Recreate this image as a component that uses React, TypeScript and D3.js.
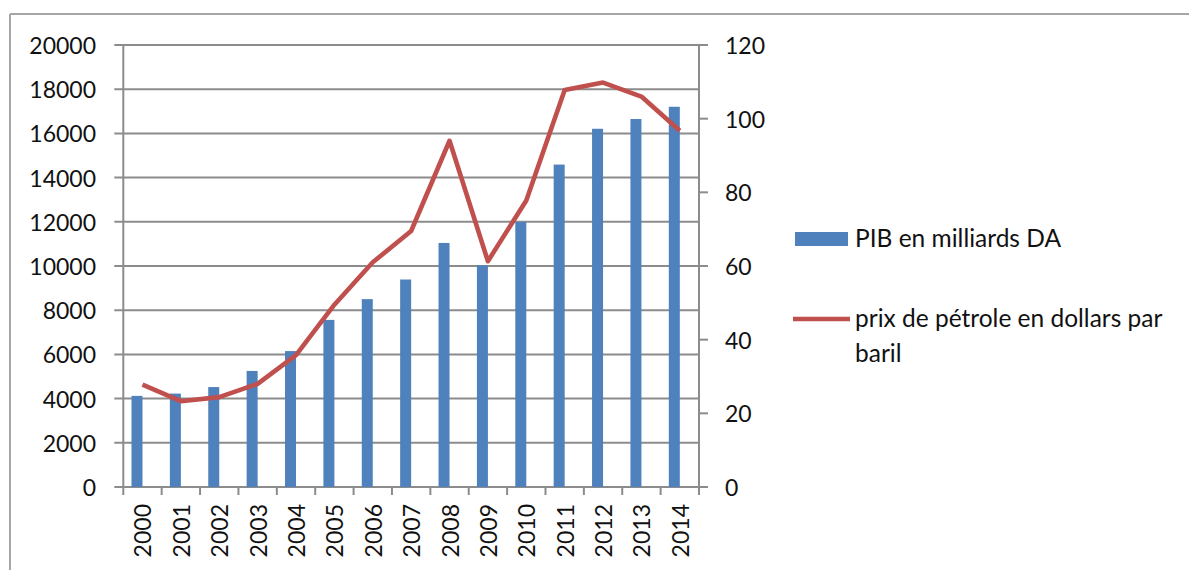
import React from "react";
import * as d3 from "d3";

// Algeria: GDP (billions DA) and oil price (USD per barrel), 2000–2014
const years = ["2000", "2001", "2002", "2003", "2004", "2005", "2006", "2007", "2008", "2009", "2010", "2011", "2012", "2013", "2014"];
const pib = [4123, 4227, 4522, 5252, 6150, 7562, 8501, 9389, 11043, 10034, 11991, 14589, 16209, 16650, 17205];
const petrole = [27.8, 23.3, 24.4, 28, 35.8, 49.5, 61, 69.5, 94, 61.3, 77.8, 107.8, 109.8, 106, 96.7];
const leftTicks = [0, 2000, 4000, 6000, 8000, 10000, 12000, 14000, 16000, 18000, 20000];
const rightTicks = [0, 20, 40, 60, 80, 100, 120];
const seriesNames = ["PIB en milliards DA", "prix de pétrole en dollars par", "baril"];

const W = 1189;
const H = 570;
const plot = { left: 123.3, right: 699, top: 45, bottom: 487 };
const BLUE = "#4F81BD";
const RED = "#C0504D";
const GRID = "#8c8c8c";
const FONT = "Lato, 'Open Sans', sans-serif";

export default function App() {
  const x = d3.scaleBand<string>().domain(years).range([plot.left, plot.right]).padding(0);
  const yL = d3.scaleLinear().domain([0, 20000]).range([plot.bottom, plot.top]);
  const yR = d3.scaleLinear().domain([0, 120]).range([plot.bottom, plot.top]);
  const bw = x.bandwidth();
  const barW = 11;
  const cx = (y: string) => (x(y) as number) + bw / 2;

  const line = d3
    .line<number>()
    .x((_, i) => cx(years[i]))
    .y((d) => yR(d));

  return (
    <svg width={W} height={H} style={{ position: "absolute", left: 0, top: 0, background: "#fff" }} fontFamily={FONT}>
      <rect x={0} y={0} width={W} height={H} fill="#fff" />
      {/* chart frame */}
      <line x1={10} y1={14} x2={W} y2={14} stroke="#a6a6a6" strokeWidth={2} />
      <line x1={10} y1={14} x2={10} y2={H} stroke="#a6a6a6" strokeWidth={2} />

      {/* horizontal gridlines + left ticks */}
      {leftTicks.map((t) => (
        <g key={"g" + t}>
          <line x1={plot.left - 9} x2={plot.right} y1={yL(t)} y2={yL(t)} stroke={GRID} strokeWidth={2} />
          <text x={96} y={yL(t)} textAnchor="end" dominantBaseline="central" fontSize={23} fill="#111">
            {t}
          </text>
        </g>
      ))}

      {/* right axis ticks */}
      {rightTicks.map((t) => (
        <g key={"r" + t}>
          <line x1={plot.right} x2={plot.right + 9} y1={yR(t)} y2={yR(t)} stroke={GRID} strokeWidth={2} />
          <text x={725} y={yR(t)} textAnchor="start" dominantBaseline="central" fontSize={23} fill="#111">
            {t}
          </text>
        </g>
      ))}

      {/* axis lines */}
      <line x1={plot.left} x2={plot.left} y1={plot.top} y2={plot.bottom} stroke={GRID} strokeWidth={2} />
      <line x1={plot.right} x2={plot.right} y1={plot.top} y2={plot.bottom} stroke={GRID} strokeWidth={2} />

      {/* category ticks */}
      {years.concat(["end"]).map((y, i) => {
        const xx = plot.left + i * bw;
        return <line key={"t" + i} x1={xx} x2={xx} y1={plot.bottom} y2={plot.bottom + 8} stroke={GRID} strokeWidth={2} />;
      })}

      {/* bars */}
      {pib.map((v, i) => (
        <rect key={"b" + i} x={cx(years[i]) - barW} y={yL(v)} width={barW} height={yL(0) - yL(v)} fill={BLUE} />
      ))}

      {/* oil price line */}
      <path d={line(petrole) as string} fill="none" stroke={RED} strokeWidth={4.6} strokeLinejoin="round" />

      {/* year labels */}
      {years.map((y) => (
        <text
          key={"y" + y}
          transform={`translate(${cx(y)},504) rotate(-90)`}
          textAnchor="end"
          dominantBaseline="central"
          fontSize={23}
          fill="#111"
        >
          {y}
        </text>
      ))}

      {/* legend */}
      <rect x={795} y={232} width={53} height={14} fill={BLUE} />
      <text x={855} y={247} fontSize={24.5} fill="#111">
        {seriesNames[0]}
      </text>
      <line x1={793} x2={850} y1={319} y2={319} stroke={RED} strokeWidth={4.6} />
      <text x={855} y={326.5} fontSize={24.5} fill="#111">
        {seriesNames[1]}
      </text>
      <text x={855} y={362} fontSize={24.5} fill="#111">
        {seriesNames[2]}
      </text>
    </svg>
  );
}
